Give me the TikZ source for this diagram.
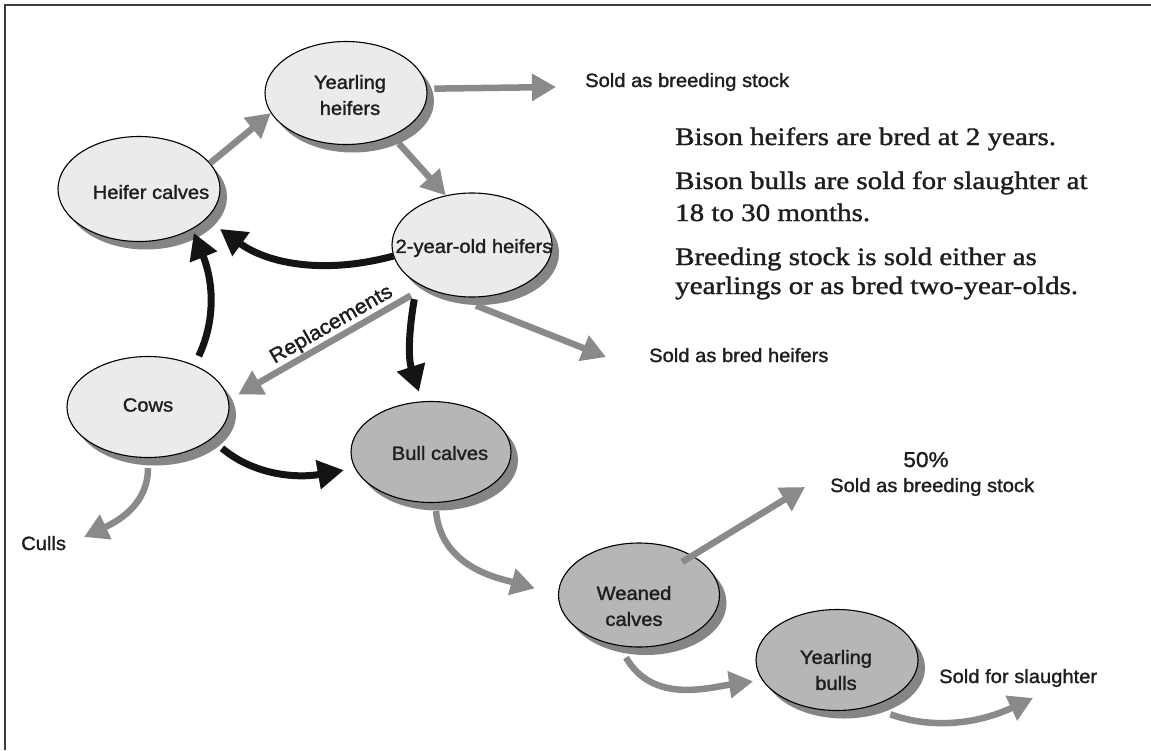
\documentclass[tikz,border=0pt]{standalone}
\usepackage{fontspec}
\setmainfont{Liberation Sans}
\newfontfamily\labfont[FakeStretch=1.05,FakeBold=1.4]{Liberation Sans}
\newfontfamily\serfont[FakeStretch=1.16,FakeBold=1.4]{Liberation Serif}
\usetikzlibrary{shapes.geometric,arrows.meta,shadows}
\definecolor{lightfill}{HTML}{EBEBEB}
\definecolor{darkfill}{HTML}{B6B6B6}
\definecolor{shadowgray}{HTML}{858585}
\definecolor{arrowgray}{HTML}{8A8A8A}
\definecolor{arrowblack}{HTML}{141414}
\definecolor{framegray}{HTML}{3C3C3C}
\definecolor{textblack}{HTML}{1E1E1E}
\begin{document}
\begin{tikzpicture}[x=1pt,y=1pt,
  ellbase/.style={ellipse, draw=black, line width=1.1pt, inner sep=0pt,
    minimum width=162pt, minimum height=102pt,
    drop shadow={shadow xshift=7pt, shadow yshift=-8pt, fill=shadowgray, opacity=1}},
  lightell/.style={ellbase, fill=lightfill},
  darkell/.style={ellbase, fill=darkfill},
  labtext/.style={font=\labfont\fontsize{19.2}{26}\selectfont, text=textblack, align=center, inner sep=0pt},
  sertext/.style={font=\serfont\fontsize{25}{30}\selectfont, text=textblack, inner sep=0pt, anchor=base west},
  gar/.style={draw=arrowgray, line width=6.5pt, -{Triangle[length=24pt,width=26pt]}},
  bar/.style={draw=arrowblack, line width=7pt, -{Triangle[length=26pt,width=28pt]}},
]
\useasboundingbox (0,0) rectangle (1151,-750);
\fill[white] (0,0) rectangle (1151,-750);
\draw[framegray, line width=1.5pt] (5,-750) -- (5,-5) -- (1151,-5);

% ellipses
\node[lightell, minimum width=162pt, minimum height=103pt] (yh) at (346,-93) {};
\node[lightell, minimum width=162pt, minimum height=105pt] (hc) at (139,-189) {};
\node[lightell, minimum width=160pt, minimum height=104pt] (ty) at (472,-245) {};
\node[lightell, minimum width=162pt, minimum height=101pt] (cows) at (148,-407) {};
\node[darkell, minimum width=160pt, minimum height=101pt] (bc) at (431,-452) {};
\node[darkell, minimum width=161pt, minimum height=104pt] (wc) at (639,-595) {};
\node[darkell, minimum width=162pt, minimum height=101pt] (yb) at (837,-660) {};

% texts in ellipses
\node[labtext] (yht) at ([shift={(4pt,-2pt)}]yh.center) {Yearling\\heifers};
\node[labtext] (hct) at ([shift={(12pt,-3pt)}]hc.center) {Heifer calves};
\node[labtext] (tyt) at ([shift={(2pt,-3pt)}]ty.center) {2-year-old heifers};
\node[labtext] (cowst) at ([shift={(0pt,2pt)}]cows.center) {Cows};
\node[labtext] (bct) at ([shift={(9pt,-1pt)}]bc.center) {Bull calves};
\node[labtext] (wct) at ([shift={(-5pt,-11pt)}]wc.center) {Weaned\\calves};
\node[labtext] (ybt) at ([shift={(-1pt,-10pt)}]yb.center) {Yearling\\bulls};

% outside labels
\node[labtext, anchor=base west] (sb1) at (585,-87) {Sold as breeding stock};
\node[labtext, anchor=base west] (sbh) at (649,-362) {Sold as bred heifers};
\node[labtext, anchor=base, font=\labfont\fontsize{21.5}{26}\selectfont] (pct) at (926,-467) {50\%};
\node[labtext, anchor=base west] (sb2) at (830,-492) {Sold as breeding stock};
\node[labtext, anchor=base west] (sfs) at (939,-683) {Sold for slaughter};
\node[labtext, anchor=base west] (culls) at (21,-550) {Culls};

% paragraph
\node[sertext] (p1) at (675,-145) {Bison heifers are bred at 2 years.};
\node[sertext] (p2) at (675,-189) {Bison bulls are sold for slaughter at};
\node[sertext] (p3) at (675,-221) {18 to 30 months.};
\node[sertext] (p4) at (675,-265) {Breeding stock is sold either as};
\node[sertext] (p5) at (675,-294) {yearlings or as bred two-year-olds.};

% free ends
\coordinate (c1) at (556,-87);
\coordinate (c2) at (606,-357);
\coordinate (c3) at (84,-537);
\coordinate (c4) at (805,-487);
\coordinate (c5) at (1033,-698);

% connectors
\draw[gar] (hc.20) -- (yh.195);
\draw[gar, shorten <=10pt] (yh.317) -- (ty.118);
\draw[gar, shorten <=7pt] (yh.3) -- (c1);
\draw[bar, shorten >=17pt] (ty.188) to[out=195,in=-36] (hc.336);
\draw[bar, shorten <=10pt, shorten >=4pt] (cows.42) to[out=65,in=-68] (hc.323);
\draw[gar, shorten <=16pt, shorten >=11pt] (ty.222) -- node[labtext, sloped, above=1pt, pos=0.44, font=\labfont\fontsize{20.5}{26}\selectfont] (rep) {Replacements} (cows.5);
\draw[bar, shorten <=16pt, shorten >=10pt] (ty.215) to[out=260,in=108] (bc.100);
\draw[gar] ([shift={(4pt,-8pt)}]ty.south) -- (c2);
\draw[bar, shorten <=14pt, shorten >=11pt] (cows.333) to[out=-40,in=190] (bc.192);
\draw[gar] ([yshift=-10pt]cows.south) to[out=-90,in=25] (c3);
\draw[gar, shorten >=24pt] ([shift={(5pt,-8pt)}]bc.south) to[out=-85,in=164] (wc.west);
\draw[gar] ([shift={(43pt,33pt)}]wc.center) -- (c4);
\draw[gar, shorten >=9pt] ([shift={(-13pt,-10pt)}]wc.south) to[out=-60,in=188] (yb.195);
\draw[gar, shorten <=22pt] (yb.305) to[out=-20,in=205] (c5);
\end{tikzpicture}
\end{document}
